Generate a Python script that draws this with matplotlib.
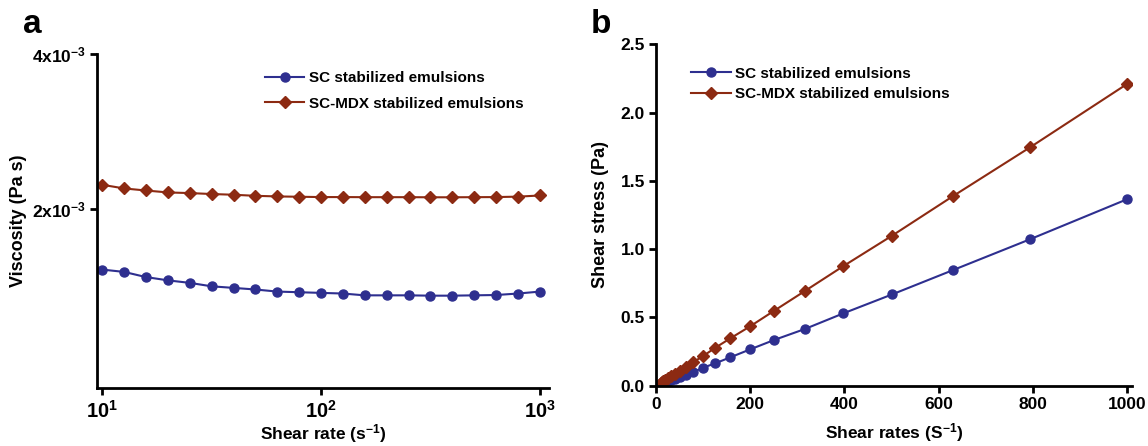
import matplotlib
matplotlib.use("Agg")
import matplotlib.pyplot as plt
from matplotlib.ticker import NullLocator

plt.rcParams['font.family'] = ['Liberation Sans', 'DejaVu Sans']
plt.rcParams['font.weight'] = 'bold'
plt.rcParams['mathtext.fontset'] = 'custom'
plt.rcParams['mathtext.rm'] = 'Liberation Sans:bold'
plt.rcParams['mathtext.bf'] = 'Liberation Sans:bold'
plt.rcParams['mathtext.default'] = 'bf'

# shear rates (s^-1), 10 points per decade
shear_rate = [10, 12.6, 15.8, 20, 25.1, 31.6, 39.8, 50.1, 63.1, 79.4, 100,
              126, 158, 200, 251, 316, 398, 501, 631, 794, 1000]

# panel a: viscosity (Pa s)
visc_sc = [1.526e-3, 1.510e-3, 1.476e-3, 1.454e-3, 1.438e-3, 1.416e-3, 1.406e-3,
           1.396e-3, 1.383e-3, 1.379e-3, 1.375e-3, 1.371e-3, 1.360e-3, 1.360e-3,
           1.360e-3, 1.358e-3, 1.358e-3, 1.360e-3, 1.362e-3, 1.371e-3, 1.383e-3]
visc_mdx = [2.229e-3, 2.193e-3, 2.173e-3, 2.154e-3, 2.148e-3, 2.139e-3, 2.132e-3,
            2.122e-3, 2.116e-3, 2.113e-3, 2.110e-3, 2.110e-3, 2.109e-3, 2.109e-3,
            2.109e-3, 2.108e-3, 2.108e-3, 2.109e-3, 2.110e-3, 2.114e-3, 2.125e-3]

# panel b: shear stress (Pa)
stress_sc = [0.008, 0.012, 0.018, 0.024, 0.031, 0.039, 0.050, 0.063, 0.080, 0.100,
             0.132, 0.164, 0.208, 0.266, 0.335, 0.415, 0.530, 0.668, 0.847, 1.072, 1.365]
stress_mdx = [0.022, 0.028, 0.035, 0.044, 0.055, 0.069, 0.087, 0.109, 0.137, 0.173,
              0.217, 0.278, 0.347, 0.435, 0.549, 0.693, 0.876, 1.098, 1.389, 1.745, 2.209]

labels = ['SC stabilized emulsions', 'SC-MDX stabilized emulsions']
blue = '#2e2f8f'
red = '#8c2a12'

fig = plt.figure(figsize=(11.48, 4.46), dpi=100)
axa = fig.add_axes([0.0848, 0.1307, 0.3934, 0.7483])
axb = fig.add_axes([0.5714, 0.1352, 0.4144, 0.7655])

for ax in (axa, axb):
    for s in ('top', 'right'):
        ax.spines[s].set_visible(False)
    for s in ('left', 'bottom'):
        ax.spines[s].set_linewidth(2)
    ax.tick_params(which='major', direction='out', length=5, width=2,
                   labelsize=12.5, pad=3)

# ---- panel a
axa.plot(shear_rate, visc_sc, '-o', color=blue, lw=1.5, ms=6.5, label=labels[0])
axa.plot(shear_rate, visc_mdx, '-D', color=red, lw=1.5, ms=6.5, label=labels[1])
axa.set_xscale('log')
axa.set_yscale('log')
axa.set_xlim(9.5, 1100)
axa.set_ylim(9e-4, 4e-3)
axa.set_xticks([10, 100, 1000])
axa.set_xticklabels([r'$10^{1}$', r'$10^{2}$', r'$10^{3}$'])
axa.tick_params(axis='x', labelsize=14.5, pad=4)
axa.set_yticks([2e-3, 4e-3])
axa.set_yticklabels([r'$2x10^{-3}$', r'$4x10^{-3}$'])
axa.xaxis.set_minor_locator(NullLocator())
axa.yaxis.set_minor_locator(NullLocator())
axa.set_xlabel(r'Shear rate (s$^{-1}$)', fontsize=12.5, fontweight='bold', labelpad=0)
axa.set_ylabel('Viscosity (Pa s)', fontsize=13, fontweight='bold', labelpad=4)
axa.legend(loc='upper left', bbox_to_anchor=(0.34, 0.99), frameon=False,
           handlelength=2.6, handletextpad=0.3, labelspacing=0.75,
           prop={'weight': 'bold', 'size': 11})

# ---- panel b
axb.plot(shear_rate, stress_sc, '-o', color=blue, lw=1.5, ms=6.5, label=labels[0])
axb.plot(shear_rate, stress_mdx, '-D', color=red, lw=1.5, ms=6.5, label=labels[1])
axb.set_xlim(0, 1010)
axb.set_ylim(0, 2.5)
axb.set_xticks([0, 200, 400, 600, 800, 1000])
axb.set_yticks([0, 0.5, 1.0, 1.5, 2.0, 2.5])
axb.set_yticklabels(['0.0', '0.5', '1.0', '1.5', '2.0', '2.5'])
axb.set_xlabel(r'Shear rates (S$^{-1}$)', fontsize=12.5, fontweight='bold', labelpad=7)
axb.set_ylabel('Shear stress (Pa)', fontsize=13, fontweight='bold', labelpad=8)
axb.legend(loc='upper left', bbox_to_anchor=(0.045, 0.975), frameon=False,
           handlelength=2.6, handletextpad=0.3, labelspacing=0.45,
           prop={'weight': 'bold', 'size': 11})

fig.text(0.02, 0.925, 'a', fontsize=24, fontweight='bold')
fig.text(0.515, 0.925, 'b', fontsize=24, fontweight='bold')

fig.savefig('out.png', dpi=100)
